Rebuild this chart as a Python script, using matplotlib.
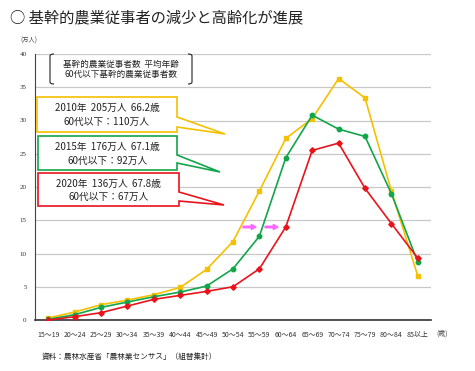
import matplotlib
matplotlib.use("Agg")
import matplotlib.pyplot as plt
from matplotlib.patches import Polygon
from matplotlib.path import Path
from matplotlib.patches import PathPatch, FancyArrow

plt.rcParams['font.family'] = ['Noto Sans CJK JP', 'DejaVu Sans']

categories = ["15～19", "20～24", "25～29", "30～34", "35～39", "40～44", "45～49",
              "50～54", "55～59", "60～64", "65～69", "70～74", "75～79", "80～84", "85以上"]
v2010 = [0.3, 1.2, 2.3, 3.0, 3.8, 4.9, 7.6, 11.8, 19.4, 27.3, 30.3, 36.3, 33.4, 19.4, 6.6]
v2015 = [0.1, 0.8, 1.9, 2.7, 3.5, 4.2, 5.1, 7.7, 12.6, 24.4, 30.8, 28.7, 27.6, 19.0, 8.7]
v2020 = [0.0, 0.5, 1.1, 2.1, 3.1, 3.7, 4.3, 5.0, 7.7, 14.0, 25.5, 26.6, 19.8, 14.5, 9.3]
yticks = [0, 5, 10, 15, 20, 25, 30, 35, 40]

W, H = 475, 371
fig = plt.figure(figsize=(W / 100, H / 100), dpi=100)

def fx(px):
    return px / W

def fy(py):
    return 1 - py / H

ax = fig.add_axes([fx(35), fy(320), fx(431) - fx(35), fy(54) - fy(320)])
x = list(range(len(categories)))
c_y, c_g, c_r = "#f5c000", "#12a54a", "#e8141c"
ax.plot(x, v2010, color=c_y, marker="s", markersize=3.2, lw=1.2, zorder=3)
ax.plot(x, v2015, color=c_g, marker="o", markersize=3.2, lw=1.2, zorder=4)
ax.plot(x, v2020, color=c_r, marker="D", markersize=2.8, lw=1.2, zorder=5)

ax.set_xlim(-0.5, 14.5)
ax.set_ylim(0, 40)
ax.set_yticks(yticks)
ax.set_yticklabels([str(t) for t in yticks], fontsize=5, color="#333333", family="Liberation Serif")
ax.set_xticks(x)
ax.set_xticklabels(categories, fontsize=5, color="#333333")
ax.tick_params(length=0, pad=8)
ax.tick_params(axis="y", pad=6)
ax.grid(axis="y", color="#c8c8c8", lw=0.9)
ax.set_axisbelow(True)
for s in ["top", "right"]:
    ax.spines[s].set_visible(False)
ax.spines["left"].set_color("#444444")
ax.spines["left"].set_linewidth(0.8)
ax.spines["bottom"].set_color("#333333")
ax.spines["bottom"].set_linewidth(1.2)

# title and labels
fig.text(fx(10), fy(18), "○ 基幹的農業従事者の減少と高齢化が進展", fontsize=11, va="center", ha="left", color="#222222")
fig.text(fx(20), fy(41), "(万人)", fontsize=4.5, va="center", ha="left", color="#444444")
fig.text(fx(442), fy(334), "(歳)", fontsize=5, va="center", ha="center", color="#444444")
fig.text(fx(42), fy(357), "資料：農林水産省「農林業センサス」（組替集計）", fontsize=5.5, va="center", ha="left", color="#222222")

# bracket legend
def bracket(xs, sign):
    verts = [(xs + sign * 4, 54), (xs, 56), (xs, 82), (xs + sign * 4, 84)]
    v = [(fx(a), fy(b)) for a, b in verts]
    p = Path(v, [Path.MOVETO, Path.CURVE3, Path.LINETO, Path.LINETO])
    p = Path([v[0], (fx(xs), fy(54)), v[1], v[2], (fx(xs), fy(84)), v[3]],
             [Path.MOVETO, Path.CURVE3, Path.CURVE3, Path.LINETO, Path.CURVE3, Path.CURVE3])
    fig.add_artist(PathPatch(p, fill=False, lw=0.8, color="#222222", transform=fig.transFigure))

bracket(50, 1)
bracket(192, -1)
fig.text(fx(121), fy(64), "基幹的農業従事者数  平均年齢", fontsize=6.2, ha="center", va="center", color="#222222")
fig.text(fx(121), fy(74), "60代以下基幹的農業従事者数", fontsize=6.2, ha="center", va="center", color="#222222")

def callout(x0, y0, x1, y1, b0, b1, tip, color, line1, line2):
    verts = [(x0, y0), (x1, y0), (x1, b0), tip, (x1, b1), (x1, y1), (x0, y1)]
    poly = Polygon([(fx(a), fy(b)) for a, b in verts], closed=True, facecolor="white",
                   edgecolor=color, lw=1.2, transform=fig.transFigure, zorder=10)
    fig.add_artist(poly)
    cx = (x0 + x1) / 2
    t1 = fig.text(fx(cx), fy(y0 + (y1 - y0) * 0.32), line1, fontsize=7, ha="center", va="center", color="#222222")
    t2 = fig.text(fx(cx), fy(y0 + (y1 - y0) * 0.72), line2, fontsize=7, ha="center", va="center", color="#222222")
    t1.set_zorder(11)
    t2.set_zorder(11)

callout(37, 97, 177, 132, 117, 127, (225, 134), c_y, "2010年  205万人  66.2歳", "60代以下：110万人")
callout(38, 136, 177, 170, 155, 163, (220, 172), c_g, "2015年  176万人  67.1歳", "60代以下：92万人")
callout(38, 173, 179, 206, 192, 201, (224, 205), c_r, "2020年  136万人  67.8歳", "60代以下：67万人")

# pink arrows
for xa in (243, 265):
    fig.add_artist(FancyArrow(fx(xa), fy(227), fx(xa + 13) - fx(xa), 0, width=0.004,
                              head_width=0.014, head_length=0.01, length_includes_head=True,
                              color="#ff66ff", transform=fig.transFigure, zorder=12))

fig.savefig("out.png", dpi=100)
